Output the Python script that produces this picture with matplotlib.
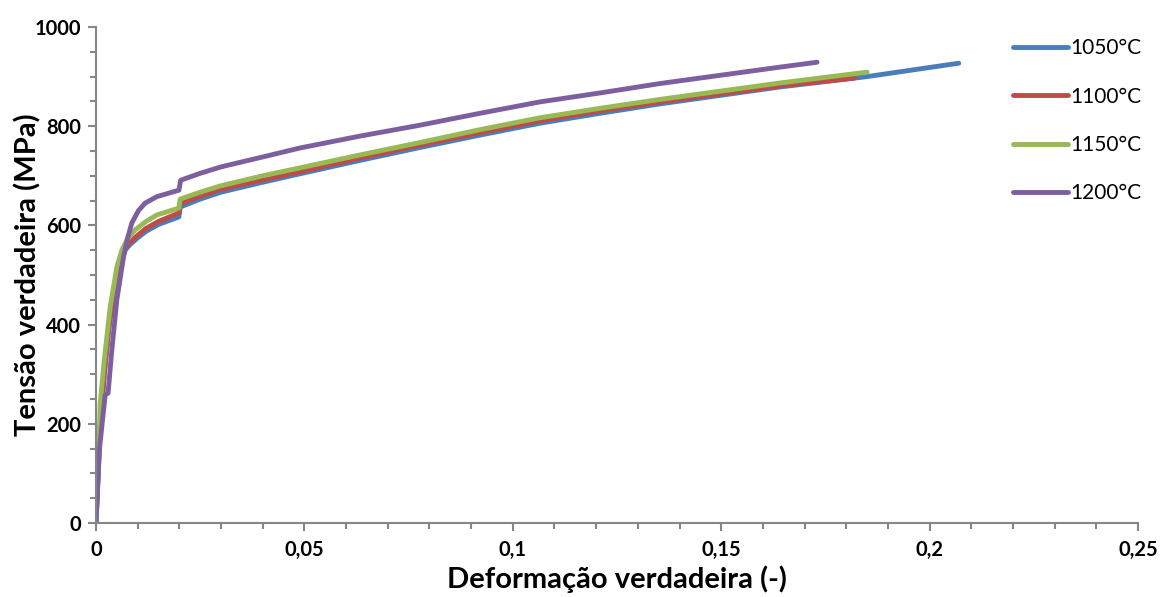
import matplotlib
matplotlib.use("Agg")
import matplotlib.pyplot as plt
from matplotlib.ticker import MultipleLocator, FuncFormatter

plt.rcParams['font.family'] = ['Lato', 'DejaVu Sans']

labels = ['1050°C', '1100°C', '1150°C', '1200°C']
colors = ['#4a7ebb', '#be4b48', '#98b954', '#7d5fa0']

eps_1050 = [0, 0.001, 0.002, 0.003, 0.004, 0.005, 0.006, 0.007, 0.008, 0.010, 0.012, 0.015, 0.0199,
            0.0202, 0.025, 0.03, 0.04, 0.0489, 0.0633, 0.0777, 0.0921, 0.1065, 0.1209, 0.1353, 0.164, 0.185, 0.207]
sig_1050 = [0, 190, 300, 385, 450, 500, 532, 550, 560, 575, 588, 602, 617,
            637, 653, 667, 687, 704, 731, 757, 782, 806, 826, 845, 879, 900, 927]

eps_1100 = [0, 0.001, 0.002, 0.003, 0.004, 0.005, 0.006, 0.007, 0.008, 0.010, 0.012, 0.015, 0.0199,
            0.0202, 0.025, 0.03, 0.04, 0.0489, 0.0633, 0.0777, 0.0921, 0.1065, 0.1209, 0.1353, 0.164, 0.182]
sig_1100 = [0, 195, 305, 390, 455, 505, 535, 553, 565, 580, 594, 608, 625,
            644, 659, 673, 692, 708, 736, 762, 787, 811, 831, 849, 881, 897]

eps_1150 = [0, 0.0008, 0.001, 0.002, 0.0034, 0.005, 0.0062, 0.0075, 0.0094, 0.012, 0.0146, 0.0199,
            0.0202, 0.025, 0.03, 0.04, 0.0489, 0.0633, 0.0777, 0.0921, 0.1065, 0.1209, 0.1353, 0.164, 0.185]
sig_1150 = [0, 180, 240, 330, 435, 516, 550, 572, 591, 608, 621, 635,
            653, 667, 680, 700, 716, 742, 767, 793, 817, 836, 854, 887, 909]

eps_1200 = [0, 0.0008, 0.0022, 0.0029, 0.0038, 0.005, 0.0066, 0.0076, 0.0086, 0.0102, 0.0118, 0.0146, 0.0199,
            0.0203, 0.025, 0.03, 0.04, 0.0489, 0.0633, 0.0777, 0.0921, 0.1065, 0.1209, 0.1353, 0.164, 0.173]
sig_1200 = [0, 147, 258, 262, 349, 450, 536, 575, 605, 630, 645, 658, 671,
            691, 705, 718, 738, 756, 780, 802, 826, 849, 867, 886, 919, 929]

series = [(eps_1050, sig_1050), (eps_1100, sig_1100), (eps_1150, sig_1150), (eps_1200, sig_1200)]

x_ticks = [0, 0.05, 0.1, 0.15, 0.2, 0.25]
y_ticks = [0, 200, 400, 600, 800, 1000]

fig = plt.figure(figsize=(11.62, 5.97), dpi=100)
ax = fig.add_axes([96/1162, 1-523/597, (1138-96)/1162, (523-27)/597])

for (x, y), c, lab in zip(series, colors, labels):
    ax.plot(x, y, color=c, lw=3.5, label=lab, solid_capstyle='round', solid_joinstyle='round')

ax.set_xlim(0, 0.25)
ax.set_ylim(0, 1000)
ax.set_xticks(x_ticks)
ax.set_yticks(y_ticks)
ax.xaxis.set_minor_locator(MultipleLocator(0.01))
ax.yaxis.set_minor_locator(MultipleLocator(50))

def fmt(v, pos):
    return ('%g' % v).replace('.', ',')
ax.xaxis.set_major_formatter(FuncFormatter(fmt))

for s in ['top', 'right']:
    ax.spines[s].set_visible(False)
for s in ['left', 'bottom']:
    ax.spines[s].set_color('#868686')
    ax.spines[s].set_linewidth(1.5)

ax.tick_params(which='major', direction='out', length=6, width=1.5, color='#868686',
               labelsize=14.5, pad=6)
ax.tick_params(axis='y', which='major', pad=5)
ax.tick_params(which='minor', direction='out', length=4.5, width=1.5, color='#868686')
for t in ax.get_xticklabels() + ax.get_yticklabels():
    t.set_fontweight('bold')

ax.set_xlabel('Deformação verdadeira (-)', fontsize=21, fontweight='bold', labelpad=4)
ax.set_ylabel('Tensão verdadeira (MPa)', fontsize=21, fontweight='bold', labelpad=-5)

leg = ax.legend(loc='upper left', bbox_to_anchor=(1005/1162, 1-30/597), bbox_transform=fig.transFigure,
                frameon=False, fontsize=15, handlelength=2.6, labelspacing=1.36,
                handletextpad=0.15, borderaxespad=0)

fig.savefig('out.png', dpi=100)
